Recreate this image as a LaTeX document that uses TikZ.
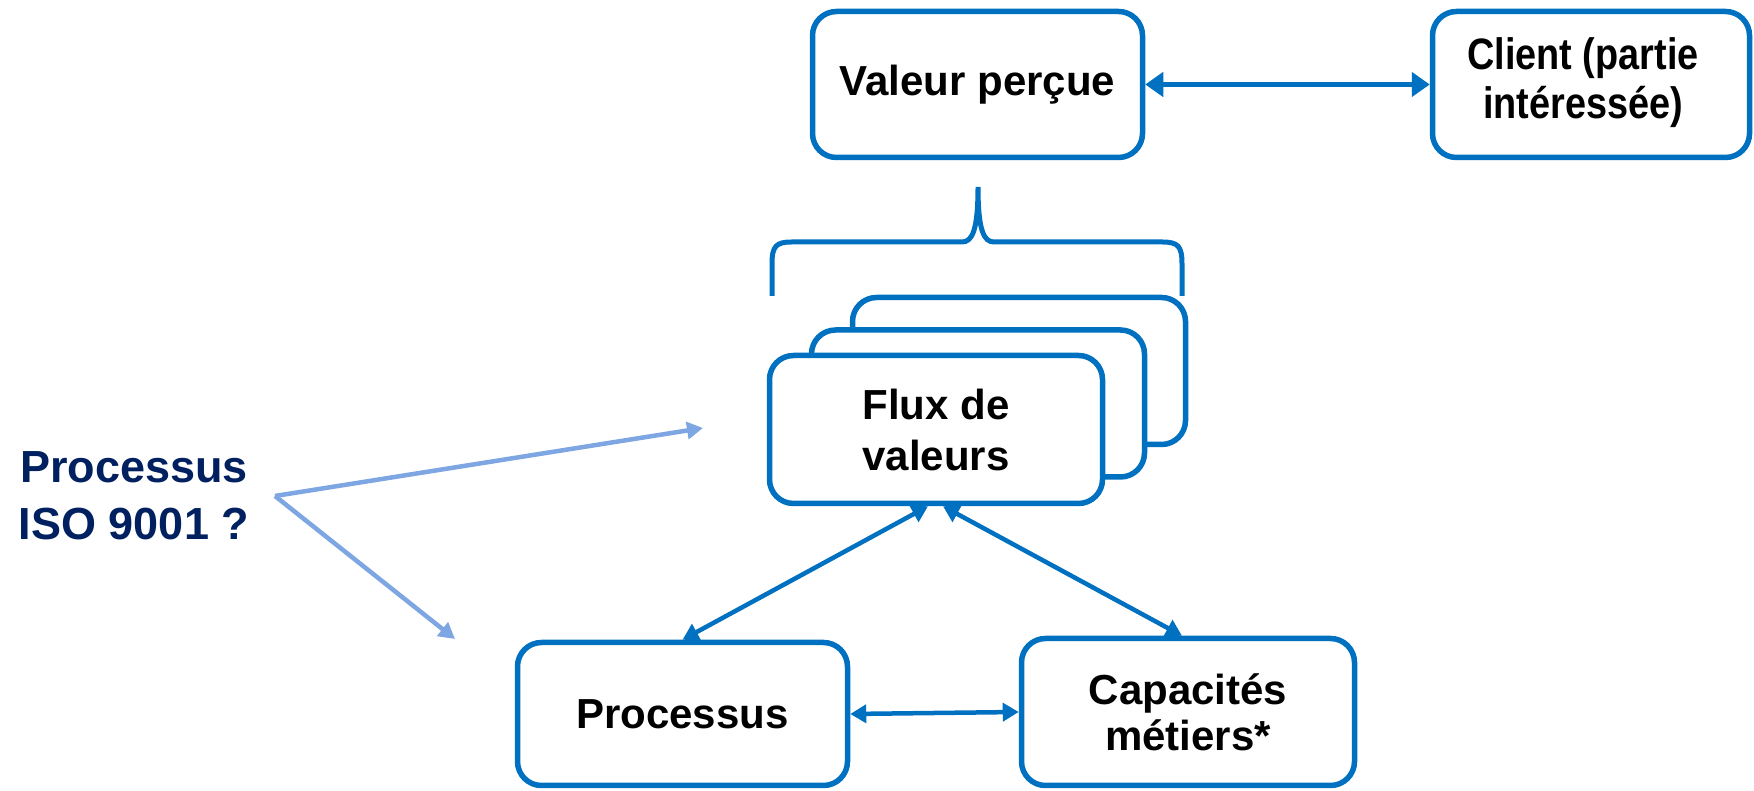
\documentclass[tikz,border=0pt]{standalone}
\usepackage{fontspec}
\setmainfont{Liberation Sans}
\newfontfamily\narrowfont[FakeStretch=0.86]{Liberation Sans}
\usetikzlibrary{arrows.meta}
\definecolor{boxblue}{RGB}{0,112,192}
\definecolor{lightarrow}{RGB}{125,166,226}
\definecolor{navy}{RGB}{0,32,96}
\begin{document}
\begin{tikzpicture}[x=1pt,y=1pt,
  box/.style={draw=boxblue, line width=5.5pt, rounded corners=24pt, fill=white,
    align=center, inner sep=0pt, font=\bfseries\fontsize{42}{50}\selectfont},
  conn/.style={draw=boxblue, line width=4.5pt, {Triangle[length=16pt,width=18pt]}-{Triangle[length=16pt,width=18pt]}},
  hint/.style={draw=lightarrow, line width=4.5pt, -{Triangle[length=16pt,width=17pt]}},
  brace/.style={draw=boxblue, line width=5pt}
]
\useasboundingbox (0,0) rectangle (1754,791);

% top row
\node[box, minimum width=330pt, minimum height=146pt] (V) at (977.5,706.5) {Valeur perçue};
\node[box, minimum width=317pt, minimum height=146pt] (K) at (1591,706.5) {};
\node[align=center, inner sep=0pt, font=\narrowfont\bfseries\fontsize{44}{49}\selectfont] (Kt) at ([xshift=-8pt,yshift=2pt]K.center) {Client (partie\\intéressée)};
\draw[conn, {Triangle[length=18pt,width=24pt]}-{Triangle[length=18pt,width=24pt]}] (V.east) -- (K.west);

% brace
\draw[brace] (772,495) -- (772,527) .. controls (772,545) and (776,549) .. (792,549)
  -- (962,549) .. controls (972,549) and (978,560) .. (978,604)
  .. controls (978,560) and (984,549) .. (994,549)
  -- (1162,549) .. controls (1178,549) and (1182,545) .. (1182,527) -- (1182,495);

% stacked value streams
\node[box, minimum width=333pt, minimum height=147pt] (F3) at (1019,420) {};
\node[box, minimum width=333pt, minimum height=147pt] (F2) at (978,387.5) {};
\node[box, minimum width=333pt, minimum height=148pt, font=\bfseries\fontsize{42}{51}\selectfont] (F) at (936,361.5) {Flux de\\valeurs};

% bottom row
\node[box, minimum width=330pt, minimum height=143pt] (P) at (682.5,77) {Processus};
\node[box, minimum width=333pt, minimum height=147pt, font=\bfseries\fontsize{42}{46}\selectfont] (C) at (1188,79) {Capacités\\métiers*};

\draw[conn] (P.north) -- ([xshift=-8pt]F.south);
\draw[conn] ([xshift=-6pt]C.north) -- ([xshift=7pt]F.south);
\draw[conn] (P.east) -- (C.west);

% ISO question
\node[text=navy, align=center, font=\bfseries\fontsize{45}{57}\selectfont] (Q) at (134,295) {Processus\\ISO 9001 ?};
\coordinate (S) at (275,295);
\coordinate (E1) at (703,363);
\coordinate (E2) at (455,152);
\draw[hint] (S) -- (E1);
\draw[hint] (S) -- (E2);
\end{tikzpicture}
\end{document}
